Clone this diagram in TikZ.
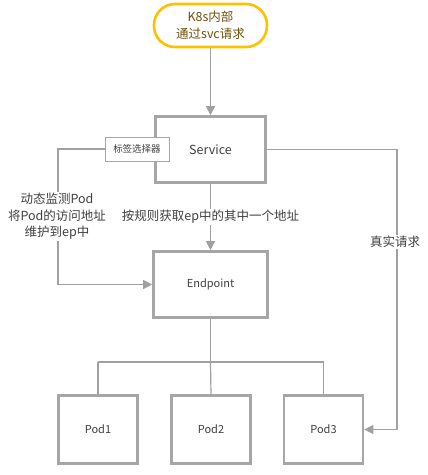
\documentclass[tikz,border=0pt]{standalone}
\usepackage{fontspec}
\setmainfont{Noto Sans CJK SC}
\usetikzlibrary{arrows.meta}
\definecolor{boxgray}{RGB}{166,166,166}
\definecolor{linegray}{RGB}{160,160,160}
\definecolor{txt}{RGB}{64,64,64}
\definecolor{pillorange}{RGB}{255,192,0}
\definecolor{pilltxt}{RGB}{110,80,10}
\tikzset{
  bigbox/.style={draw=boxgray, line width=2.6pt, fill=white, text=txt, inner sep=0pt, font=\fontsize{11}{13}\selectfont},
  selbox/.style={draw=boxgray, line width=1pt, fill=white, text=txt, minimum width=64pt, minimum height=24pt, inner sep=0pt, font=\fontsize{9.5}{11}\selectfont},
  conn/.style={draw=linegray, line width=1.2pt},
  arr/.style={conn, -{Triangle[length=9pt,width=9pt]}},
  lbl/.style={fill=white, text=txt, inner sep=1pt, align=center, font=\fontsize{12.5}{16.5}\selectfont},
}
\begin{document}
\begin{tikzpicture}[x=1pt,y=-1pt]
\useasboundingbox (0,0) rectangle (428,475);
\node[draw=pillorange, line width=2.6pt, rounded corners=21pt, minimum width=113pt, minimum height=43pt, fill=white, text=pilltxt, align=center, font=\fontsize{12.5}{17}\selectfont, inner sep=0pt] (pill) at (210.5,25.5) {K8s内部\\通过svc请求};
\node[bigbox, minimum width=110pt, minimum height=66pt, font=\fontsize{12.5}{14}\selectfont] (svc) at (210.5,149.5) {Service};
\node[bigbox, minimum width=114pt, minimum height=66pt] (ep) at (210.5,284.5) {Endpoint};
\node[bigbox, minimum width=79pt, minimum height=68pt] (p1) at (98,429.5) {Pod1};
\node[bigbox, minimum width=79pt, minimum height=68pt] (p2) at (211,429.5) {Pod2};
\node[bigbox, minimum width=79pt, minimum height=68pt] (p3) at (323.5,429.5) {Pod3};
\node[selbox] (sel) at (137,149) {标签选择器};
\coordinate (lt) at (58,149);
\coordinate (lb) at (58,284.5);
\coordinate (rt) at (397,149.5);
\coordinate (rb) at (397,429.5);
\coordinate (jm) at (210.5,362);
\coordinate (jl) at (98,362);
\coordinate (jr) at (323.5,362);
\draw[arr] (pill.south) -- (svc.north);
\draw[arr] (svc.south) -- (ep.north);
\draw[arr] (sel.west) -- (lt) -- (lb) -- (ep.west);
\draw[arr] (svc.east) -- (rt) -- (rb) -- (p3.east);
\draw[conn] (ep.south) -- (jm);
\draw[conn] (jl) -- (jr);
\draw[conn] (jl) -- (p1.north);
\draw[conn] (jm) -- (p2.north);
\draw[conn] (jr) -- (p3.north);
\node[lbl] (l1) at (210.5,217) {按规则获取ep中的其中一个地址};
\node[lbl] (l2) at (57,216.5) {动态监测Pod\\将Pod的访问地址\\维护到ep中};
\node[lbl] (l3) at (395,242) {真实请求};
\end{tikzpicture}
\end{document}
